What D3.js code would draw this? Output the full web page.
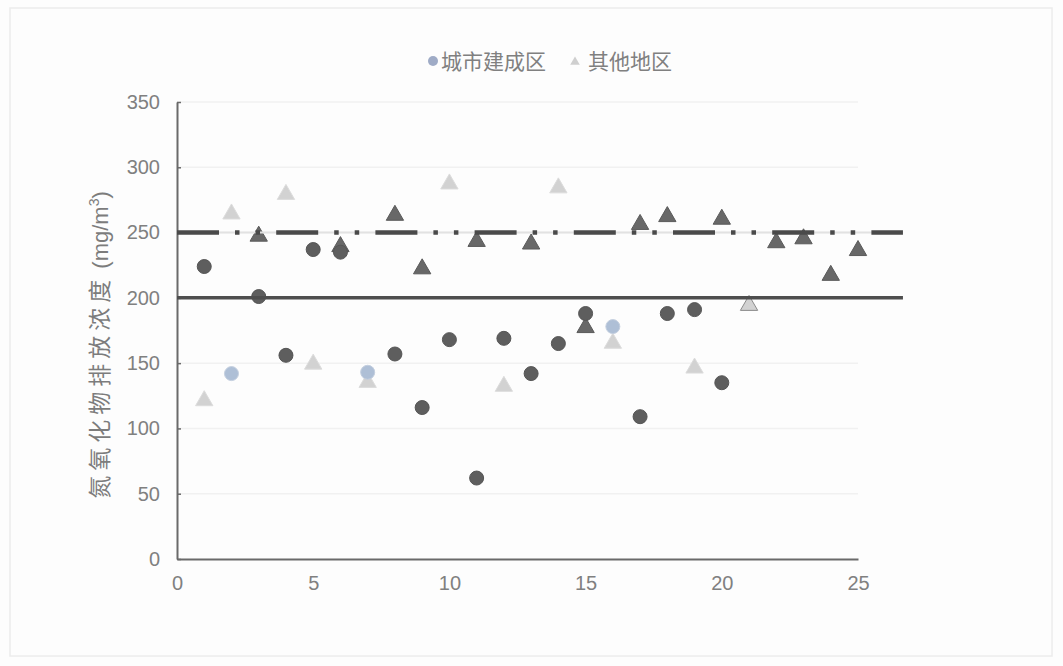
<!DOCTYPE html>
<html>
<head>
<meta charset="utf-8">
<script src="https://cdn.jsdelivr.net/npm/d3@7/dist/d3.min.js"></script>
<style>
  html, body { margin: 0; padding: 0; background: #fdfdfd; }
  svg { display: block; }
  text { font-family: "Liberation Sans", "Noto Sans CJK SC", sans-serif; }
</style>
</head>
<body>
<svg id="chart" width="1063" height="666"></svg>
<script>
// ---------------- data ----------------
const seriesNames = ["城市建成区", "其他地区"];
const citySamples = [1,2,3,4,5,6,7,8,9,10,11,12,13,14,15,16,17,18,19,20];
const cityValues  = [224,142,201,156,237,235,143,157,116,168,62,169,142,165,188,178,109,188,191,135];
const otherSamples = [1,2,3,4,5,6,7,8,9,10,11,12,13,14,15,16,17,18,19,20,21,22,23,24,25];
const otherValues  = [122,265,248,280,150,240,136,264,223,288,244,133,242,285,178,166,257,263,147,261,195,243,246,218,237];
// samples printed faded in the reference
const cityFaded  = [2, 7, 16];
const otherFaded = [1, 2, 4, 5, 7, 10, 12, 14, 16, 19, 21];
const limitValues = [200, 250];
const limitExtent = [0, 26.65];
const xTicks = [0, 5, 10, 15, 20, 25];
const yTicks = [0, 50, 100, 150, 200, 250, 300, 350];
const yTitleMain = "氮氧化物排放浓度";
const yTitleUnit = ["(mg/m", "3", ")"];

// ---------------- drawing ----------------
const svg = d3.select("#chart");
const x = d3.scaleLinear().domain([0, 25]).range([177, 858]);
const y = d3.scaleLinear().domain([0, 350]).range([559, 102]);

// faint outer frame
svg.append("rect").attr("x", 10).attr("y", 8).attr("width", 1042).attr("height", 648)
  .attr("fill", "none").attr("stroke", "#ececec").attr("stroke-width", 1.5);

// faint gridlines
svg.append("g").selectAll("line").data(yTicks.filter(d => d > 0)).join("line")
  .attr("x1", x(0)).attr("x2", x(25)).attr("y1", d => y(d)).attr("y2", d => y(d))
  .attr("stroke", "#f1f1f1").attr("stroke-width", 1.5);

// y axis
const yAxis = d3.axisLeft(y).tickValues(yTicks).tickSize(-4).tickPadding(17).tickSizeOuter(0);
const gy = svg.append("g").attr("transform", `translate(${x(0)},0)`).call(yAxis);
gy.select(".domain").attr("stroke", "#6a6a6a").attr("stroke-width", 2);
gy.selectAll(".tick line").attr("stroke", "#6a6a6a").attr("stroke-width", 1.5);
gy.selectAll(".tick text").attr("fill", "#808080").style("font-size", "20px")
  .style("font-family", "'Liberation Sans', sans-serif");

// x axis
const xAxis = d3.axisBottom(x).tickValues(xTicks).tickSize(0).tickPadding(17).tickSizeOuter(0);
const gx = svg.append("g").attr("transform", `translate(0,${y(0)})`).call(xAxis);
gx.select(".domain").attr("stroke", "#6a6a6a").attr("stroke-width", 2);
gx.selectAll(".tick text").attr("fill", "#808080").style("font-size", "20px")
  .style("font-family", "'Liberation Sans', sans-serif");

// y title
const yt = svg.append("text")
  .attr("transform", `translate(108,${(182 + 508) / 2}) rotate(-90)`)
  .attr("text-anchor", "middle")
  .attr("fill", "#7c7c7c");
yt.append("tspan").style("font-size", "23px").style("letter-spacing", "5px")
  .style("font-family", "'Noto Sans CJK SC', sans-serif").text(yTitleMain);
yt.append("tspan").style("font-size", "22px").style("font-family", "'Liberation Sans', sans-serif")
  .text(" " + yTitleUnit[0]);
yt.append("tspan").style("font-size", "14px").attr("dy", -9)
  .style("font-family", "'Liberation Sans', sans-serif").text(yTitleUnit[1]);
yt.append("tspan").style("font-size", "22px").attr("dy", 9)
  .style("font-family", "'Liberation Sans', sans-serif").text(yTitleUnit[2]);

const dark = "#5e5e5e";
const triSym = d3.symbol().type(d3.symbolTriangle).size(130);

// other-region triangles
const otherData = otherSamples.map((s, i) => ({ s, v: otherValues[i], faded: otherFaded.includes(s) }));
svg.append("g").selectAll("path").data(otherData).join("path")
  .attr("d", triSym)
  .attr("transform", d => `translate(${x(d.s)},${y(d.v) + 1})`)
  .attr("fill", d => d.faded ? "#d2d2d2" : "#686868")
  .attr("stroke", d => d.faded ? (d.s === 21 ? "#8a8a8a" : "#dcdcdc") : "#5a5a5a")
  .attr("stroke-width", 1);

// city circles
const cityData = citySamples.map((s, i) => ({ s, v: cityValues[i], faded: cityFaded.includes(s) }));
svg.append("g").selectAll("circle").data(cityData).join("circle")
  .attr("cx", d => x(d.s)).attr("cy", d => y(d.v)).attr("r", 7)
  .attr("fill", d => d.faded ? "#aebfd6" : dark)
  .attr("stroke", d => d.faded ? "#c4cfdf" : "#555")
  .attr("stroke-width", 1);

// limit lines
const line = d3.line().x(d => x(d[0])).y(d => y(d[1]));
svg.append("path").datum(limitExtent.map(e => [e, limitValues[1]]))
  .attr("d", line).attr("stroke", "#e2e2e2").attr("stroke-width", 2).attr("fill", "none");
svg.append("path").datum(limitExtent.map(e => [e, limitValues[1]]))
  .attr("d", line).attr("stroke", "#4a4a4a").attr("stroke-width", 4.5).attr("fill", "none")
  .attr("stroke-dasharray", "42,16,4.5,16,4.5,16.2");
svg.append("path").datum(limitExtent.map(e => [e, limitValues[0]]))
  .attr("d", line).attr("stroke", "#4e4e4e").attr("stroke-width", 3.5).attr("fill", "none");

// legend
const lg = svg.append("g");
lg.append("circle").attr("cx", 433).attr("cy", 61).attr("r", 5).attr("fill", "#9fabc6");
lg.append("text").attr("x", 441).attr("y", 69).attr("fill", "#808080")
  .style("font-size", "21px").style("font-family", "'Noto Sans CJK SC', sans-serif")
  .text(seriesNames[0]);
lg.append("path").attr("d", d3.symbol().type(d3.symbolTriangle).size(40))
  .attr("transform", "translate(575,62)").attr("fill", "#cfcfcf");
lg.append("text").attr("x", 588).attr("y", 69).attr("fill", "#808080")
  .style("font-size", "21px").style("font-family", "'Noto Sans CJK SC', sans-serif")
  .text(seriesNames[1]);
</script>
</body>
</html>
